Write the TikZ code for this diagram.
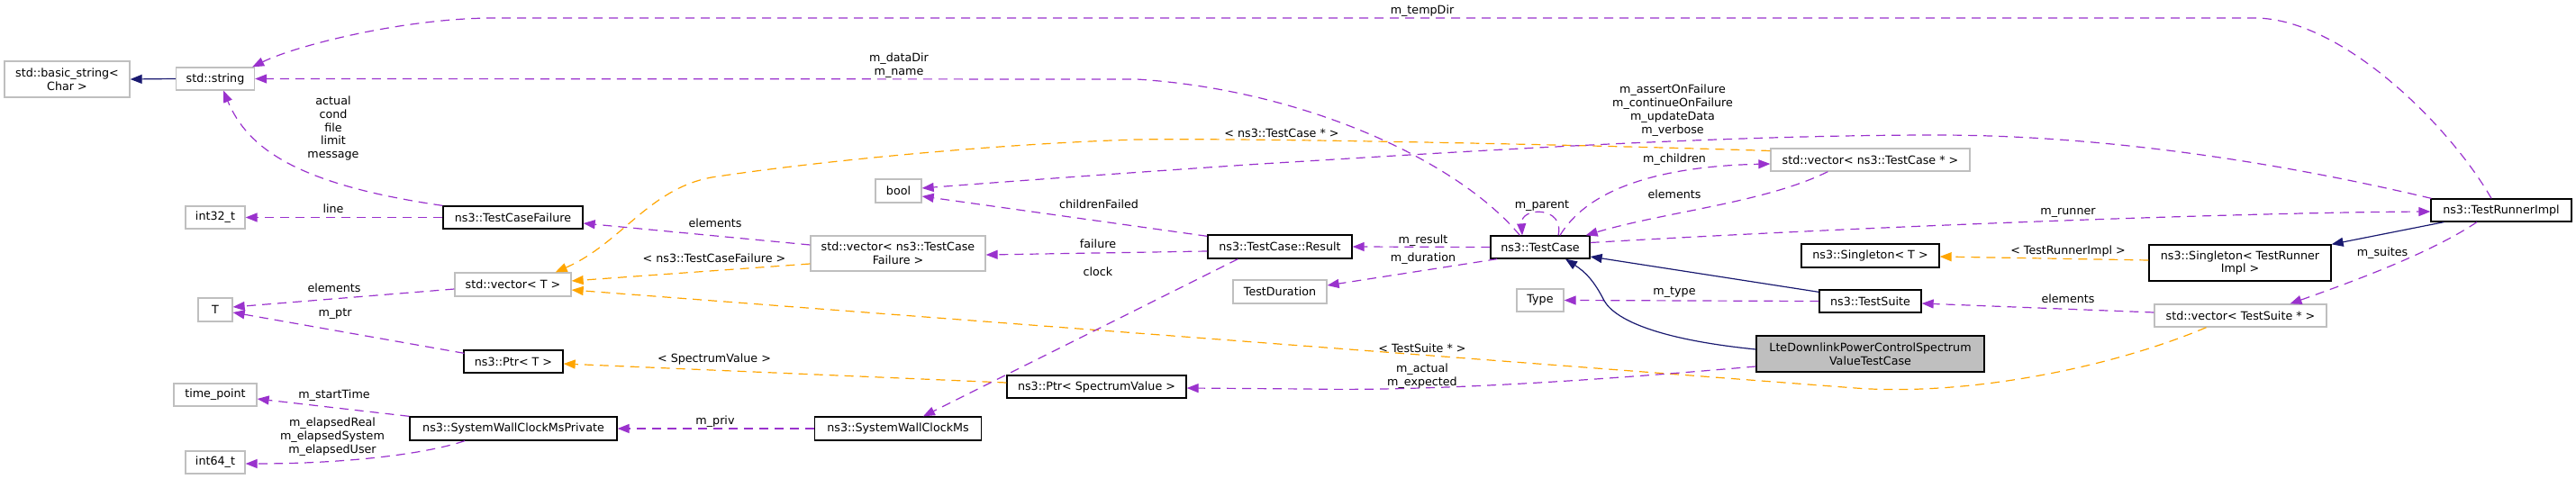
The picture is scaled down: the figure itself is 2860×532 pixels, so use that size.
\documentclass[tikz,border=0pt]{standalone}
\usepackage{fontspec}
\setmainfont{DejaVu Sans}
\usetikzlibrary{arrows.meta,calc}
\definecolor{usecol}{HTML}{9A32CD}
\definecolor{tplcol}{HTML}{FFA500}
\definecolor{inhcol}{HTML}{191970}
\definecolor{undoc}{HTML}{BFBFBF}
\newcommand\dxfont{\fontsize{12.7}{14.8}\selectfont}
\begin{document}
\begin{tikzpicture}[x=1pt,y=-1pt,
  cls/.style={draw=black, line width=1.3pt, rectangle, inner sep=0pt, align=center, font=\dxfont},
  ext/.style={cls, draw=undoc},
  lab/.style={inner sep=0pt, align=center, font=\dxfont},
  use/.style={draw=usecol, line width=1.2pt, dash pattern=on 10pt off 7pt, -{Triangle[length=13pt,width=10pt]}},
  tpl/.style={use, draw=tplcol},
  inh/.style={draw=inhcol, line width=1.2pt, -{Triangle[length=13pt,width=10pt]}}]
\useasboundingbox (0,0) rectangle (2860,532);
% nodes
\node[ext, minimum width=139pt, minimum height=40pt] (basic) at (74.5,88) {std::basic\_string<\\Char >};
\node[ext, minimum width=87pt, minimum height=25pt] (string) at (239,87.5) {std::string};
\node[ext, minimum width=66pt, minimum height=25pt] (int32) at (239,241.5) {int32\_t};
\node[cls, minimum width=155pt, minimum height=25pt] (tcf) at (569.5,241.5) {ns3::TestCaseFailure};
\node[ext, minimum width=129pt, minimum height=26pt] (vecT) at (569.5,316) {std::vector< T >};
\node[ext, minimum width=38pt, minimum height=26pt] (T) at (239,344) {T};
\node[cls, minimum width=110pt, minimum height=25pt] (ptrT) at (570,401.5) {ns3::Ptr< T >};
\node[ext, minimum width=92pt, minimum height=25pt] (tp) at (239,438.5) {time\_point};
\node[cls, minimum width=230pt, minimum height=26pt] (swcmp) at (570,476) {ns3::SystemWallClockMsPrivate};
\node[ext, minimum width=66pt, minimum height=25pt] (int64) at (239,513.5) {int64\_t};
\node[ext, minimum width=51pt, minimum height=26pt] (bool) at (997.5,212) {bool};
\node[ext, minimum width=194pt, minimum height=39pt] (vecTCF) at (997,281.5) {std::vector< ns3::TestCase\\Failure >};
\node[cls, minimum width=185pt, minimum height=26pt] (swcm) at (997,476) {ns3::SystemWallClockMs};
\node[cls, minimum width=199pt, minimum height=25pt] (ptrSV) at (1217.5,429.5) {ns3::Ptr< SpectrumValue >};
\node[cls, minimum width=160pt, minimum height=26pt] (result) at (1421,274) {ns3::TestCase::Result};
\node[ext, minimum width=104pt, minimum height=26pt] (duration) at (1421,324) {TestDuration};
\node[cls, minimum width=110pt, minimum height=25pt] (tc) at (1710,274.5) {ns3::TestCase};
\node[ext, minimum width=52pt, minimum height=25pt] (type) at (1710,333.5) {Type};
\node[ext, minimum width=221pt, minimum height=25pt] (vecTC) at (2076.5,177.5) {std::vector< ns3::TestCase * >};
\node[cls, minimum width=153pt, minimum height=26pt] (singT) at (2076.5,284) {ns3::Singleton< T >};
\node[cls, minimum width=113pt, minimum height=25pt] (ts) at (2076.5,334.5) {ns3::TestSuite};
\node[cls, fill=undoc, minimum width=253pt, minimum height=40pt] (lte) at (2076.5,393) {LteDownlinkPowerControlSpectrum\\ValueTestCase};
\node[cls, minimum width=156pt, minimum height=25pt] (tri) at (2777,233.5) {ns3::TestRunnerImpl};
\node[cls, minimum width=202pt, minimum height=40pt] (singTRI) at (2487,292) {ns3::Singleton< TestRunner\\Impl >};
\node[ext, minimum width=191pt, minimum height=25pt] (vecTS) at (2487.5,350.5) {std::vector< TestSuite * >};
% edges
\draw[inh] (string.west) -- (basic.east);
\draw[use] (tcf.north west) .. controls (330,205) and (275,165) .. ($(string.south)+(9,0)$);
\draw[use] (tcf.west) -- (int32.east);
\draw[use] ($(vecTCF.west)+(0,-9.5)$) -- ($(tcf.east)+(0,6.5)$);
\draw[use] ($(vecT.west)+(0,5)$) -- ($(T.east)+(0,-3)$);
\draw[use] ($(ptrT.north west)+(1,4)$) -- ($(T.east)+(0,3)$);
\draw[tpl] ($(vecTCF.west)+(0,11.5)$) -- ($(vecT.east)+(0,-4)$);
\draw[tpl] ($(vecTC.west)+(0,-10)$) .. controls (1800,162) and (1400,153) .. (1262,155) .. controls (1100,160) and (900,180) .. (790,197) .. controls (720,210) and (690,270) .. ($(vecT.north east)+(-18,0)$);
\draw[tpl] ($(vecTS.south)+(-38,0)$) .. controls (2340,410) and (2180,440) .. (2060,431) -- ($(vecT.east)+(0,6)$);
\draw[tpl] ($(ptrSV.west)+(0,-4.5)$) -- ($(ptrT.east)+(0,2.5)$);
\draw[tpl] ($(singTRI.west)+(0,-3)$) -- ($(singT.east)+(0,1)$);
\draw[use] (swcmp.north west) -- ($(tp.east)+(0,4.5)$);
\draw[use] ($(swcmp.south)+(-54,0)$) .. controls (470,505) and (380,515) .. ($(int64.east)+(0,1.5)$);
\draw[use] (swcm.west) -- (swcmp.east);
\draw[use] ($(result.south west)+(34,0)$) -- ($(swcm.north)+(28,0)$);
\draw[use] ($(result.west)+(0,5)$) -- ($(vecTCF.east)+(0,1.5)$);
\draw[use] ($(result.north west)+(0,2)$) -- ($(bool.east)+(0,6)$);
\draw[use] (tc.west) -- (result.east);
\draw[use] ($(tc.south west)+(8,0)$) -- ($(duration.east)+(0,-7)$);
\draw[use] ($(tc.north west)+(33,0)$) .. controls (1620,180) and (1450,100) .. (1262,88) -- (string.east);
\draw[use] ($(tc.north)+(20,0)$) .. controls (1738,229) and (1688,229) .. ($(tc.north)+(-20,0)$);
\draw[use] ($(tc.north)+(22,0)$) .. controls (1760,215) and (1830,185) .. ($(vecTC.west)+(0,4.5)$);
\draw[use] ($(vecTC.south west)+(64,0)$) .. controls (1960,225) and (1850,235) .. ($(tc.north east)+(-5,0)$);
\draw[use] ($(tc.east)+(0,-5)$) .. controls (2100,250) and (2500,236) .. ($(tri.west)+(0,1.5)$);
\draw[use] ($(tri.north)+(-11,0)$) .. controls (2720,140) and (2600,20) .. (2503,20) -- (549,20) .. controls (450,20) and (330,50) .. ($(string.north east)+(-3,0)$);
\draw[use] ($(tri.north west)+(1,0)$) .. controls (2550,185) and (2350,150) .. (2150,150) .. controls (1900,150) and (1600,170) .. (1400,182) .. controls (1250,192) and (1100,203) .. ($(bool.east)+(0,-3)$);
\draw[inh] ($(tri.south west)+(15,0)$) -- (singTRI.north east);
\draw[use] ($(tri.south)+(-27,0)$) .. controls (2700,280) and (2620,310) .. ($(vecTS.north)+(55,0)$);
\draw[use] ($(vecTS.west)+(0,-3.5)$) -- ($(ts.east)+(0,2.5)$);
\draw[inh] ($(ts.north west)+(0,3)$) -- ($(tc.east)+(0,10.5)$);
\draw[use] (ts.west) -- (type.east);
\draw[inh] ($(lte.west)+(0,-5)$) .. controls (1850,378) and (1795,358) .. (1781,334) .. controls (1770,312) and (1760,302) .. ($(tc.south)+(28,0)$);
\draw[use] ($(lte.west)+(0,14)$) .. controls (1800,420) and (1600,435) .. (1450,432) -- ($(ptrSV.east)+(0,1.5)$);
% labels
\node[lab] (l1) at (370,142.5) {actual\\cond\\file\\limit\\message};
\node[lab] (l2) at (370,232) {line};
\node[lab] (l3) at (371,320) {elements};
\node[lab] (l4) at (372,349) {m\_ptr};
\node[lab] (l5) at (371,439) {m\_startTime};
\node[lab] (l6) at (369,485) {m\_elapsedReal\\m\_elapsedSystem\\m\_elapsedUser};
\node[lab] (l7) at (793,287) {< ns3::TestCaseFailure >};
\node[lab] (l8) at (793,399) {< SpectrumValue >};
\node[lab] (l9) at (794,468) {m\_priv};
\node[lab] (l10) at (794,248) {elements};
\node[lab] (l11) at (998,72.5) {m\_dataDir\\m\_name};
\node[lab] (l12) at (1423,148) {< ns3::TestCase * >};
\node[lab] (l13) at (1220,227) {childrenFailed};
\node[lab] (l14) at (1219,271) {failure};
\node[lab] (l15) at (1219,302) {clock};
\node[lab] (l16) at (1579,12) {m\_tempDir};
\node[lab] (l17) at (1580,267) {m\_result};
\node[lab] (l18) at (1580,287) {m\_duration};
\node[lab] (l19) at (1579,387) {< TestSuite * >};
\node[lab] (l20) at (1579,418) {m\_actual\\m\_expected};
\node[lab] (l21) at (1857,122.5) {m\_assertOnFailure\\m\_continueOnFailure\\m\_updateData\\m\_verbose};
\node[lab] (l22) at (1859,177) {m\_children};
\node[lab] (l23) at (1859,216) {elements};
\node[lab] (l24) at (1712,229) {m\_parent};
\node[lab] (l25) at (1859,325) {m\_type};
\node[lab] (l26) at (2296,236) {m\_runner};
\node[lab] (l27) at (2296,279) {< TestRunnerImpl >};
\node[lab] (l28) at (2296,332) {elements};
\node[lab] (l29) at (2645,281) {m\_suites};
\end{tikzpicture}
\end{document}
